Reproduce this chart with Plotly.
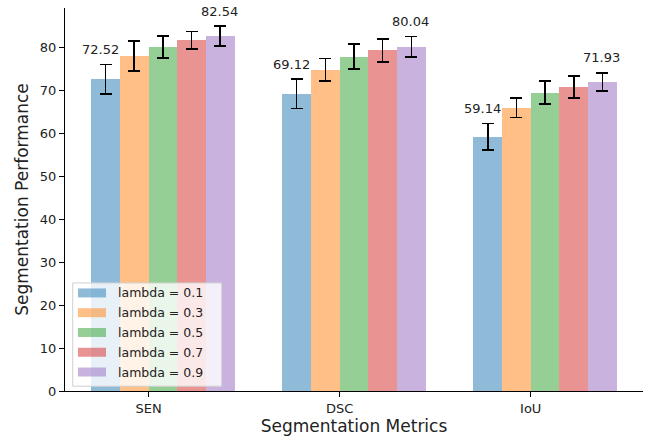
import plotly.graph_objects as go

categories = ["SEN", "DSC", "IoU"]
series_names = ["lambda = 0.1", "lambda = 0.3", "lambda = 0.5", "lambda = 0.7", "lambda = 0.9"]
values = [
    [72.52, 69.12, 59.14],
    [77.9, 74.7, 65.9],
    [80.0, 77.8, 69.4],
    [81.6, 79.2, 70.7],
    [82.54, 80.04, 71.93],
]
errors = [
    [3.4, 3.4, 3.1],
    [3.5, 2.6, 2.3],
    [2.6, 2.9, 2.7],
    [2.0, 2.7, 2.5],
    [2.3, 2.4, 2.1],
]
labelled_series = [0, 4]
y_ticks = [0, 10, 20, 30, 40, 50, 60, 70, 80]

colors = ["rgba(31,119,180,0.5)", "rgba(255,127,14,0.5)", "rgba(44,160,44,0.5)",
          "rgba(214,39,40,0.5)", "rgba(148,103,189,0.5)"]
FONT = "DejaVu Sans"
W = 0.15
xs = list(range(len(categories)))

fig = go.Figure()
for i, name in enumerate(series_names):
    fig.add_trace(go.Bar(
        x=xs, y=values[i], name=name, width=W, offset=-2 * W + i * W,
        marker=dict(color=colors[i], line=dict(width=0)),
        error_y=dict(type="data", array=errors[i], color="black", thickness=1.6, width=6),
        showlegend=False,
    ))

annotations = []
for i in labelled_series:
    for j, x in enumerate(xs):
        annotations.append(dict(
            x=x - 2 * W + i * W + W / 2, y=values[i][j] + errors[i][j] + 2.2,
            xref="x", yref="y", text=f"{values[i][j]:.2f}", showarrow=False,
            yanchor="bottom", xanchor="center", yshift=-4,
            xshift=-5 if i == 0 else -1,
            font=dict(family=FONT, size=13, color="#222"),
        ))

# custom legend (matplotlib style)
plot_w, plot_h = 578, 383.5
def px_x(p):
    return (p - 65) / plot_w
def px_y(p):
    return (391.5 - p) / plot_h

shapes = [dict(type="rect", xref="paper", yref="paper",
               x0=px_x(72.7), x1=px_x(221.7), y0=px_y(386.7), y1=px_y(283.3),
               fillcolor="rgba(255,255,255,0.8)", line=dict(color="#d0d0d0", width=1),
               layer="above")]
for i, name in enumerate(series_names):
    cy = 293.3 + i * 19.8
    shapes.append(dict(type="rect", xref="paper", yref="paper",
                       x0=px_x(78), x1=px_x(106), y0=px_y(cy + 4.5), y1=px_y(cy - 4.5),
                       fillcolor=colors[i], line=dict(width=0), layer="above"))
    annotations.append(dict(x=px_x(116), y=px_y(cy), xref="paper", yref="paper",
                            text=name, showarrow=False, xanchor="left", yanchor="middle",
                            font=dict(family=FONT, size=12.5, color="#222")))

fig.update_layout(
    width=653, height=440,
    margin=dict(l=65, r=10, t=8, b=48.5),
    paper_bgcolor="white", plot_bgcolor="white",
    barmode="overlay", bargap=0,
    font=dict(family=FONT, size=13, color="#222"),
    shapes=shapes, annotations=annotations,
    showlegend=False,
)
fig.update_xaxes(
    range=[-0.4375, 2.5875], tickmode="array", tickvals=xs, ticktext=categories,
    showline=True, linecolor="black", linewidth=1, mirror=False,
    ticks="outside", ticklen=5, tickcolor="black", showgrid=False, zeroline=False,
    tickfont=dict(family=FONT, size=13, color="#222"),
    title=dict(text="Segmentation Metrics", font=dict(family=FONT, size=17, color="#222"), standoff=4),
)
fig.update_yaxes(
    range=[0, 89.08], tickmode="array", tickvals=y_ticks,
    showline=True, linecolor="black", linewidth=1, mirror=False,
    ticks="outside", ticklen=5, tickcolor="black", showgrid=False, zeroline=False,
    tickfont=dict(family=FONT, size=13, color="#222"),
    title=dict(text="Segmentation Performance", font=dict(family=FONT, size=17, color="#222"), standoff=6),
)

fig.write_html("out.html")
